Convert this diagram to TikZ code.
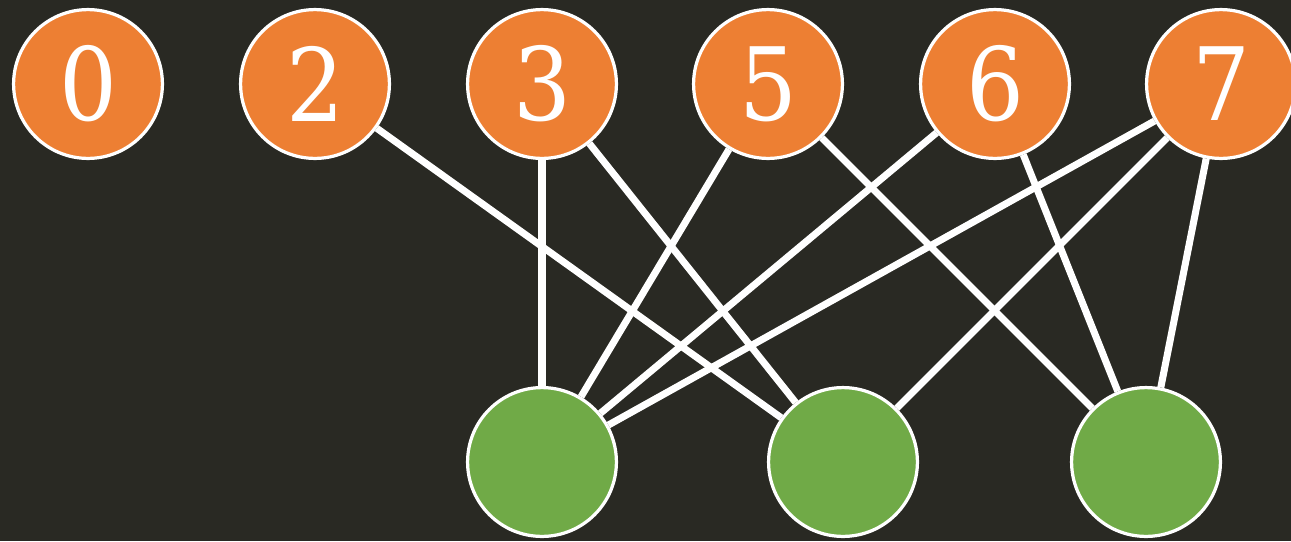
\documentclass[tikz,border=0pt]{standalone}
\usepackage{fontspec}
\setmainfont[FakeStretch=0.9]{DejaVu Serif}
\usetikzlibrary{backgrounds}

\definecolor{bgdark}{HTML}{292923}
\definecolor{vorange}{HTML}{ED7F33}
\definecolor{vgreen}{HTML}{70AA47}

\tikzset{
    vert/.style = {circle, draw=white, line width=2.3pt, minimum size=3.72cm,
                   inner sep=0pt, text=white, font=\fontsize{72}{80}\selectfont},
    link/.style = {white, line width=5pt}
}

\begin{document}
\begin{tikzpicture}[x=0.025cm, y=-0.025cm]
    \useasboundingbox (0,0) rectangle (1291,541);
    \begin{scope}[name prefix = top-]
        \node[vert, fill=vorange] (0) at (88,84) {0};
        \node[vert, fill=vorange] (2) at (315,84) {2};
        \node[vert, fill=vorange] (3) at (542,84) {3};
        \node[vert, fill=vorange] (5) at (768,84) {5};
        \node[vert, fill=vorange] (6) at (995,84) {6};
        \node[vert, fill=vorange] (7) at (1221,84) {7};
    \end{scope}
    \begin{scope}[name prefix = bottom-]
        \node[vert, fill=vgreen] (a) at (542,462) {};
        \node[vert, fill=vgreen] (b) at (843,462) {};
        \node[vert, fill=vgreen] (c) at (1146,462) {};
    \end{scope}

    \begin{pgfonlayer}{background}
        \fill[bgdark] (0,0) rectangle (1291,541);
        \draw[link] (top-2) -- (bottom-b);
        \draw[link] (top-3) -- (bottom-a);
        \draw[link] (top-3) -- (bottom-b);
        \draw[link] (top-5) -- (bottom-a);
        \draw[link] (top-5) -- (bottom-c);
        \draw[link] (top-6) -- (bottom-a);
        \draw[link] (top-6) -- (bottom-c);
        \draw[link] (top-7) -- (bottom-a);
        \draw[link] (top-7) -- (bottom-b);
        \draw[link] (top-7) -- (bottom-c);
    \end{pgfonlayer}
\end{tikzpicture}
\end{document}
